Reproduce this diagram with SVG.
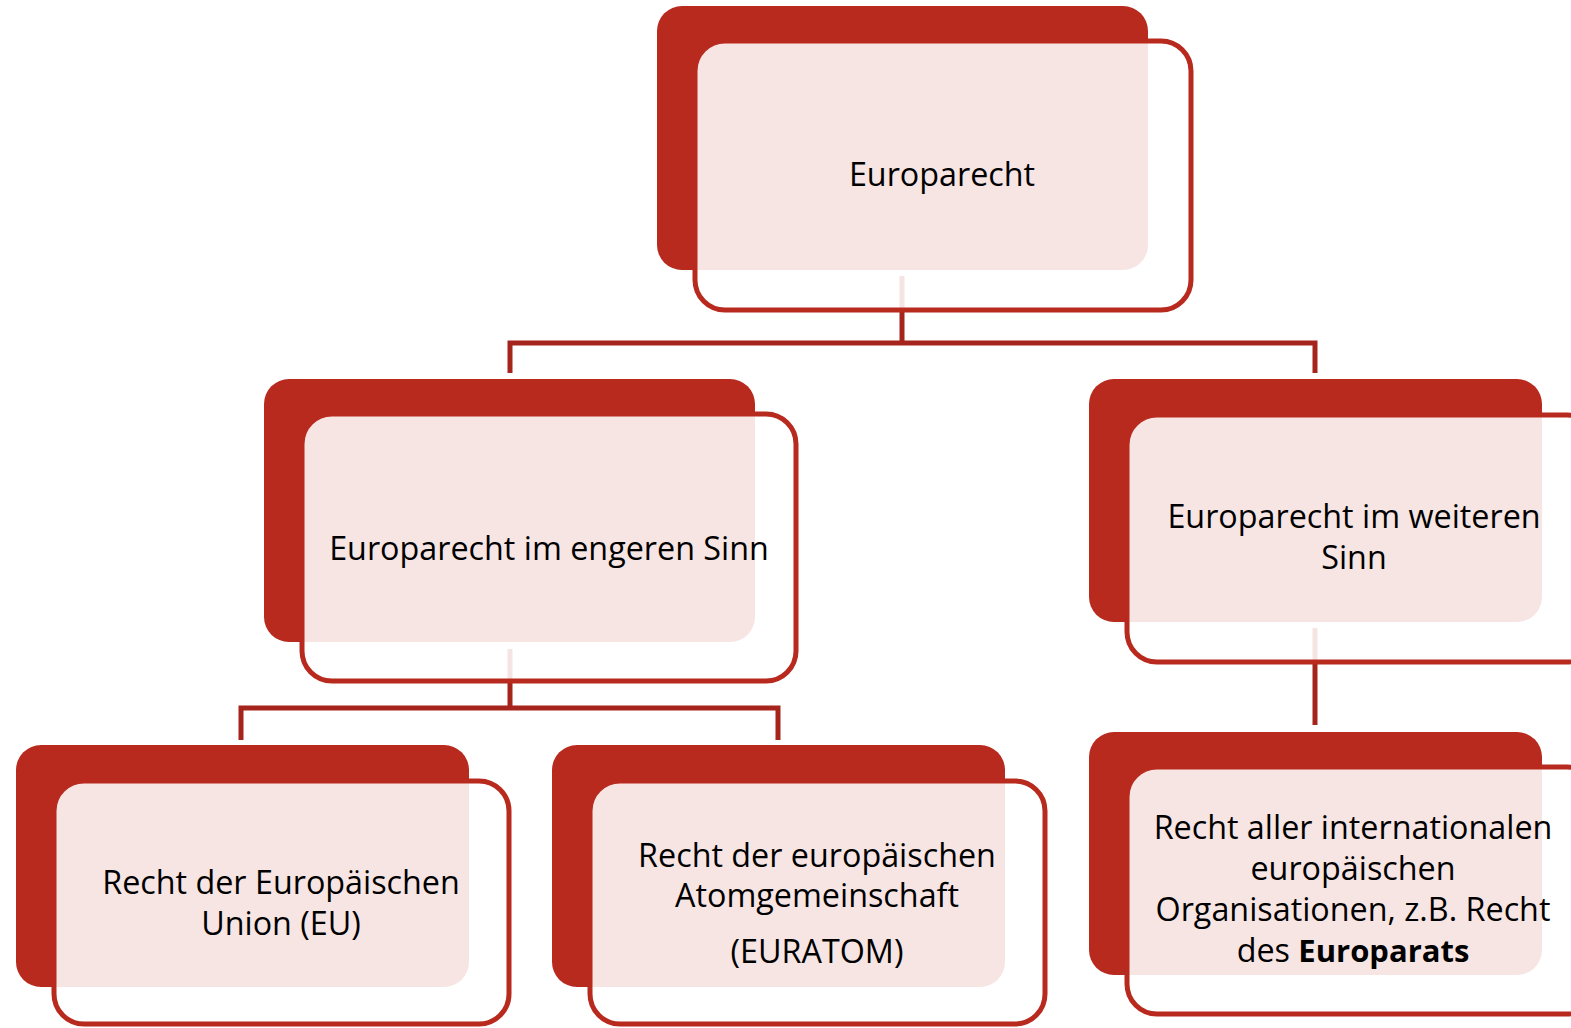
<svg xmlns="http://www.w3.org/2000/svg" width="1571" height="1028" viewBox="0 0 1571 1028">
<style>
.back{fill:#B8291E}
.front{fill:#FFFFFF;fill-opacity:0.88;stroke:#B8291E;stroke-width:5}
.conn{fill:none;stroke:#A5241B;stroke-width:5}
text{font-family:"Open Sans","Noto Sans","Liberation Sans",sans-serif;font-size:32.3px;fill:#000;text-anchor:middle}
.b{font-weight:bold;font-size:31px}
</style>
<rect width="1571" height="1028" fill="#FFFFFF"/>
<g id="connectors">
<path class="conn" d="M902,276 V343 M510,373 V343 H1315 V373"/>
<path class="conn" d="M510,649 V708 M241,740 V708 H778 V740"/>
<path class="conn" d="M1315,628 V725"/>
</g>
<g id="n-europarecht">
<rect class="back" x="657" y="6" width="491" height="264" rx="25"/>
<rect class="front" x="695" y="41" width="496" height="269" rx="30"/>
<text x="942" y="186">Europarecht</text>
</g>
<g id="n-engeren">
<rect class="back" x="264" y="379" width="491" height="263" rx="25"/>
<rect class="front" x="302" y="414" width="494" height="267" rx="30"/>
<text x="549" y="560">Europarecht im engeren Sinn</text>
</g>
<g id="n-weiteren">
<rect class="back" x="1089" y="379" width="453" height="243" rx="25"/>
<rect class="front" x="1127" y="415" width="470" height="247" rx="30"/>
<text x="1354" y="528">Europarecht im weiteren</text>
<text x="1354" y="569">Sinn</text>
</g>
<g id="n-eu">
<rect class="back" x="16" y="745" width="453" height="242" rx="25"/>
<rect class="front" x="54" y="781" width="455" height="243" rx="30"/>
<text x="281" y="894">Recht der Europäischen</text>
<text x="281" y="935">Union (EU)</text>
</g>
<g id="n-euratom">
<rect class="back" x="552" y="745" width="453" height="242" rx="25"/>
<rect class="front" x="590" y="781" width="455" height="243" rx="30"/>
<text x="817" y="867">Recht der europäischen</text>
<text x="817" y="907">Atomgemeinschaft</text>
<text x="817" y="963">(EURATOM)</text>
</g>
<g id="n-europarat">
<rect class="back" x="1089" y="732" width="453" height="243" rx="25"/>
<rect class="front" x="1127" y="767" width="470" height="247" rx="30"/>
<text x="1353" y="839">Recht aller internationalen</text>
<text x="1353" y="880">europäischen</text>
<text x="1353" y="921">Organisationen, z.B. Recht</text>
<text x="1353" y="962">des <tspan class="b">Europarats</tspan></text>
</g>
</svg>
